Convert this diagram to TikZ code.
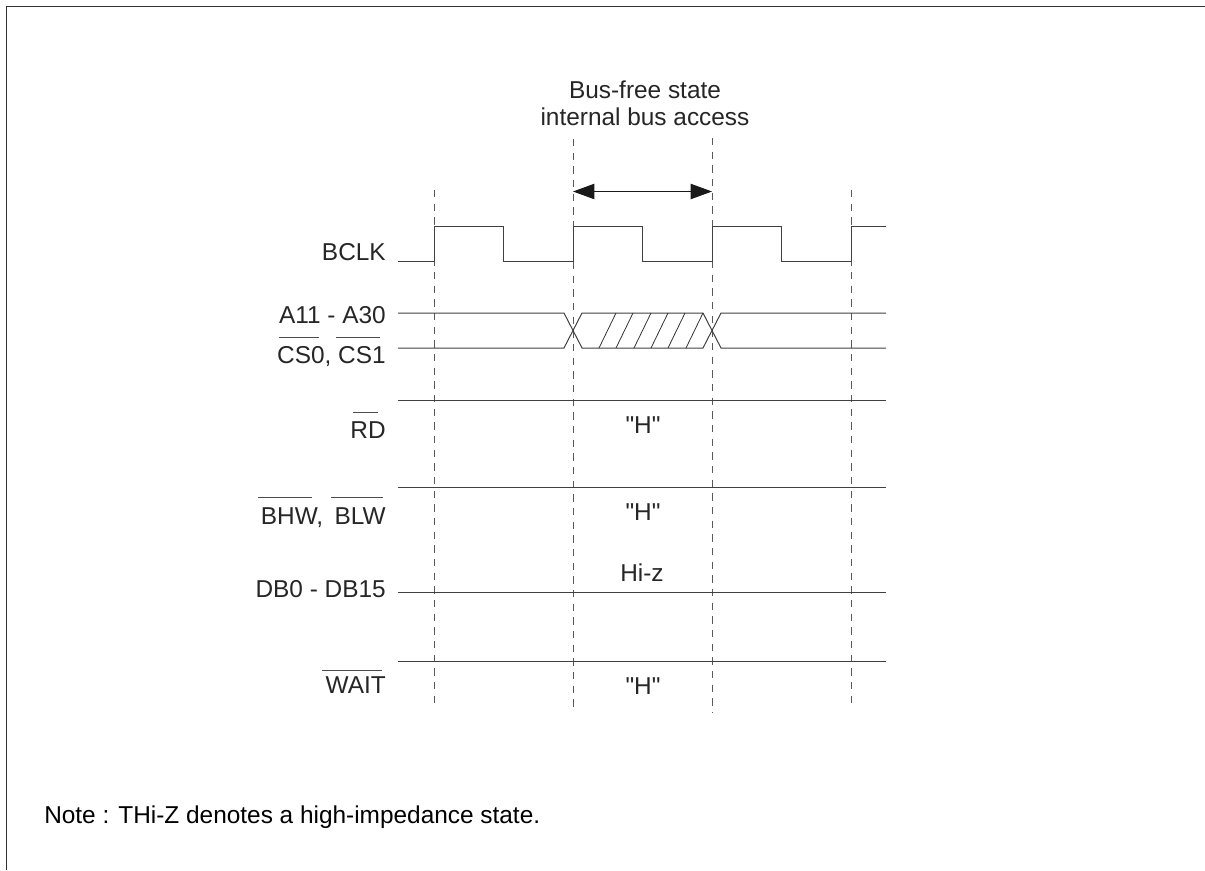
\documentclass[tikz,border=0pt]{standalone}
\usepackage{fontspec}
\setmainfont{Liberation Sans}[Ligatures=TeXOff]
\usetikzlibrary{arrows.meta}
\tikzset{
  sig/.style={line width=0.75pt, draw=black!75},
  ovbar/.style={line width=0.7pt, draw=black!70},
  guide/.style={line width=0.65pt, draw=black!65, dash pattern=on 5.5pt off 4.75pt},
  lbl/.style={font=\fontsize{18.3}{20}\selectfont, text=black!85, inner sep=0pt},
  lbr/.style={lbl, anchor=base east},
  lbc/.style={lbl, anchor=base}
}
\begin{document}
\begin{tikzpicture}[x=0.75pt, y=-0.75pt]
    \useasboundingbox (0, 0) rectangle (1205, 870);

    % Frame
    \draw[line width=1pt, draw=black!80] (6.5, 870) -- (6.5, 6.5) -- (1205, 6.5);

    % Dashed guides
    \draw[guide] (434, 190) -- (434, 708);
    \draw[guide] (573, 139) -- (573, 713);
    \draw[guide] (712, 138) -- (712, 713);
    \draw[guide] (851, 190) -- (851, 708);

    % Bus-free span
    \node[lbc] (title) at (645, 99) {Bus-free state};
    \node[lbc] (subtitle) at (645, 126) {internal bus access};
    \coordinate (spanl) at (573, 191.5);
    \coordinate (spanr) at (712, 191.5);
    \draw[sig, draw=black!90, {Triangle[length=16pt, width=11.5pt]}-{Triangle[length=16pt, width=11.5pt]}] (spanl) -- (spanr);

    % BCLK
    \draw[sig] (398, 261) -- (434, 261) -- (434, 226) -- (503, 226) -- (503, 261)
      -- (573, 261) -- (573, 226) -- (642, 226) -- (642, 261)
      -- (712, 261) -- (712, 226) -- (781, 226) -- (781, 261)
      -- (851, 261) -- (851, 226) -- (886, 226);
    \node[lbr] (bclk) at (386, 260) {BCLK};

    % Address and chip select
    \draw[sig] (398, 313) -- (564, 313) -- (582, 348) -- (703, 348) -- (721, 313) -- (886, 313);
    \draw[sig] (398, 348) -- (564, 348) -- (582, 313) -- (703, 313) -- (721, 348) -- (886, 348);
    \foreach \x in {599, 616, 634, 651, 668, 686}
      \draw[line width=0.6pt, draw=black!80] (\x, 348) -- (\x+17, 313);
    \node[lbr] (addr) at (386, 323) {A11 - A30};
    \node[lbr] (cs) at (386, 363) {CS0, CS1};

    % Level lines
    \draw[sig] (398, 400) -- (886, 400);
    \draw[sig] (398, 487) -- (886, 487);
    \draw[sig] (398, 592) -- (886, 592);
    \draw[sig] (398, 661) -- (886, 661);

    \node[lbr] (rd) at (386, 438) {RD};
    \node[lbr] (bhw) at (386, 524) {BHW,\kern3.5pt{} BLW};
    \node[lbr] (db) at (386, 597) {DB0 - DB15};
    \node[lbr] (wait) at (386, 693) {WAIT};

    % Active-low bars
    \draw[ovbar] (279, 337) -- (319, 337);
    \draw[ovbar] (336, 337) -- (380, 337);
    \draw[ovbar] (353, 412) -- (378, 412);
    \draw[ovbar] (258, 497) -- (312, 497);
    \draw[ovbar] (331, 497) -- (383, 497);
    \draw[ovbar] (322, 670) -- (382, 670);

    \node[lbc] (rdh) at (643, 433) {"H"};
    \node[lbc] (bhwh) at (643, 520) {"H"};
    \node[lbc] (hiz) at (642, 581) {Hi-z};
    \node[lbc] (waith) at (643, 694) {"H"};

    % Note
    \node[lbl, text=black, anchor=base west] (note) at (44, 823) {Note : THi-Z denotes a high-impedance state.};
\end{tikzpicture}
\end{document}
